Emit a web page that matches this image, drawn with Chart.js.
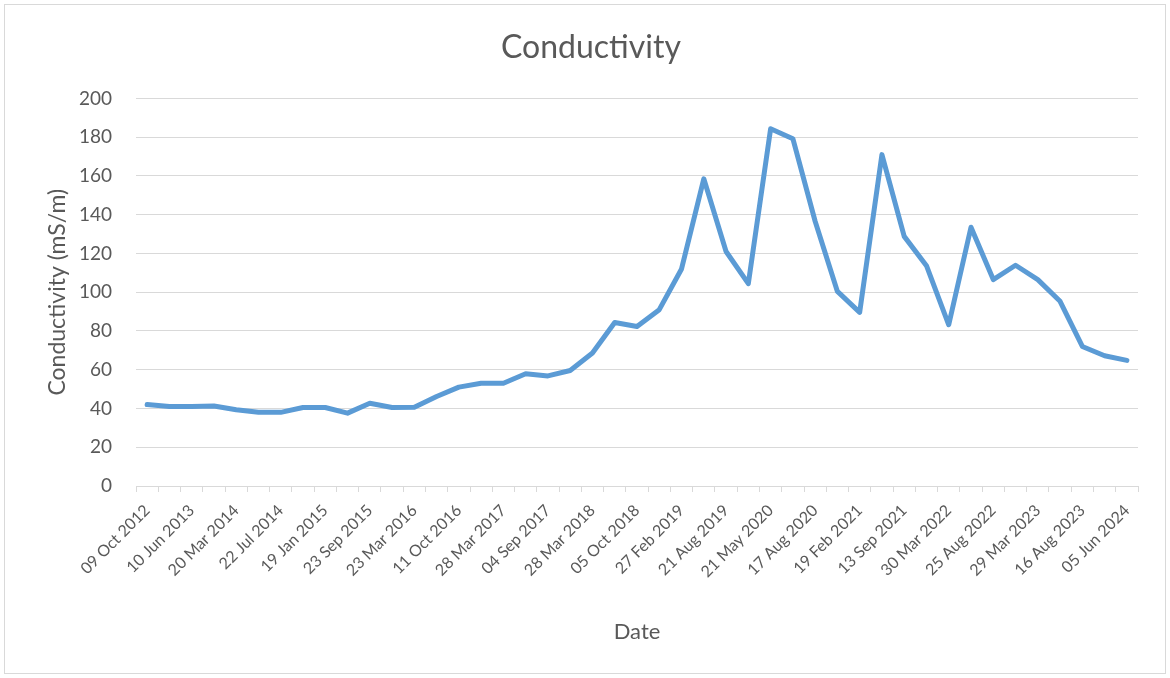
<!DOCTYPE html>
<html>
<head>
<meta charset="utf-8">
<title>Conductivity</title>
<script src="https://cdn.jsdelivr.net/npm/chart.js@4/dist/chart.umd.min.js"></script>
<style>
  html, body { margin: 0; padding: 0; background: #ffffff; }
  #wrap { width: 1170px; height: 678px; }
</style>
</head>
<body>
<div id="wrap"><canvas id="chart" width="1170" height="678"></canvas></div>
<script>
// Sampling dates shown on the axis (every second sample is labelled)
const dateLabels = [
  '09 Oct 2012', '10 Jun 2013', '20 Mar 2014', '22 Jul 2014', '19 Jan 2015',
  '23 Sep 2015', '23 Mar 2016', '11 Oct 2016', '28 Mar 2017', '04 Sep 2017',
  '28 Mar 2018', '05 Oct 2018', '27 Feb 2019', '21 Aug 2019', '21 May 2020',
  '17 Aug 2020', '19 Feb 2021', '13 Sep 2021', '30 Mar 2022', '25 Aug 2022',
  '29 Mar 2023', '16 Aug 2023', '05 Jun 2024'
];

// Conductivity readings, mS/m, one per sample
const conductivity = [
  42, 41, 41, 41.3, 39.3, 38, 38, 40.5, 40.5, 37.6,
  42.7, 40.5, 40.6, 46.2, 51, 53, 53, 57.9, 56.8, 59.6,
  68.6, 84.4, 82.3, 91, 112, 158.5, 121, 104.4, 184.3, 179.2,
  136.6, 100.4, 89.6, 171, 128.8, 113.7, 83.2, 133.5, 106.5, 113.9,
  106.5, 95.3, 72, 67.2, 64.8
];

// Y axis range and step
const yTicks = { min: 0, max: 200, step: 20 };

// One category per sample; unlabelled samples sit between the labelled dates
const categories = conductivity.map((_, i) => (i % 2 === 0 ? dateLabels[i / 2] : ''));

const TEXT = '#595959';
const GRID = '#d9d9d9';
const FONT = 'Lato, "Open Sans", sans-serif';

const frame = {
  id: 'frame',
  beforeDraw(chart) {
    const c = chart.ctx;
    c.save();
    c.fillStyle = '#ffffff';
    c.fillRect(0, 0, chart.width, chart.height);
    c.strokeStyle = '#d9d9d9';
    c.lineWidth = 1;
    c.strokeRect(4.5, 4.5, chart.width - 9, chart.height - 9);
    c.restore();
  }
};

new Chart(document.getElementById('chart'), {
  type: 'line',
  data: {
    labels: categories,
    datasets: [{
      label: 'Conductivity',
      data: conductivity,
      borderColor: '#5b9bd5',
      borderWidth: 5,
      borderJoinStyle: 'round',
      borderCapStyle: 'round',
      pointRadius: 0,
      pointHoverRadius: 0,
      tension: 0,
      fill: false
    }]
  },
  options: {
    responsive: false,
    animation: false,
    devicePixelRatio: 1,
    layout: { padding: { left: 44, right: 32, top: 0, bottom: 0 } },
    plugins: {
      legend: { display: false },
      tooltip: { enabled: false },
      title: {
        display: true,
        text: 'Conductivity',
        color: TEXT,
        font: { family: FONT, size: 32, weight: 'normal' },
        padding: { top: 28, bottom: 32 }
      }
    },
    scales: {
      x: {
        offset: true,
        grid: {
          offset: true,
          drawOnChartArea: false,
          drawTicks: true,
          tickLength: 6,
          color: GRID
        },
        border: { display: true, color: GRID, width: 1 },
        ticks: {
          autoSkip: false,
          maxRotation: 45,
          minRotation: 45,
          padding: 9,
          color: TEXT,
          font: { family: FONT, size: 16 }
        },
        title: {
          display: true,
          text: 'Date',
          color: TEXT,
          font: { family: FONT, size: 22 },
          padding: { top: 0, bottom: 33 }
        },
        afterFit(scale) { scale.height = 192; }
      },
      y: {
        min: yTicks.min,
        max: yTicks.max,
        grid: { color: GRID, drawTicks: false, lineWidth: 1 },
        border: { display: false },
        ticks: {
          stepSize: yTicks.step,
          padding: 24,
          color: TEXT,
          font: { family: FONT, size: 19 }
        },
        title: {
          display: true,
          text: 'Conductivity (mS/m)',
          color: TEXT,
          font: { family: FONT, size: 23 },
          padding: { top: 0, bottom: 0 }
        },
        afterFit(scale) { scale.width = 92; }
      }
    }
  },
  plugins: [frame]
});
</script>
</body>
</html>
